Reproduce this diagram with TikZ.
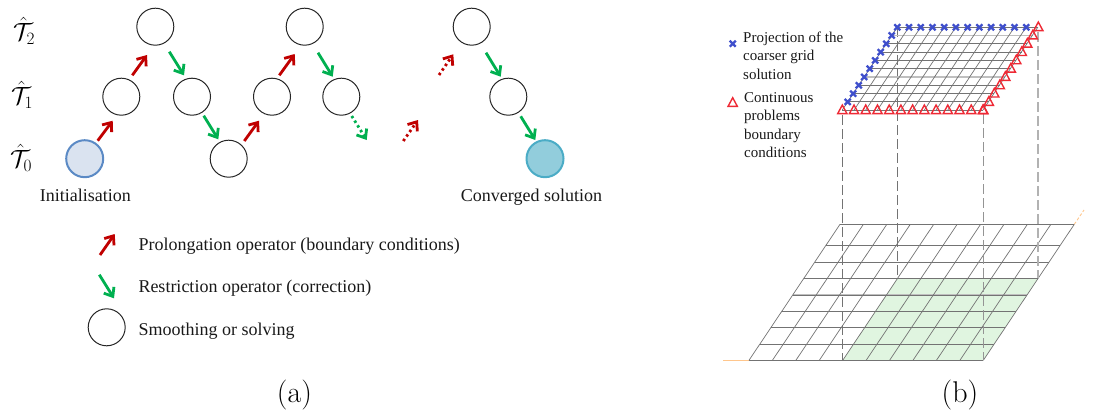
\documentclass[tikz,border=0pt]{standalone}
\usepackage{fontspec}
\usepackage{amsmath}
\newfontfamily\tnr{Liberation Serif}
\usetikzlibrary{arrows.meta}
\definecolor{redA}{HTML}{C00000}
\definecolor{greenA}{HTML}{00B050}
\definecolor{markB}{HTML}{3F4FCC}
\definecolor{markR}{HTML}{EE2A35}
\definecolor{paleG}{HTML}{E0F5E0}
\definecolor{initE}{HTML}{5B8AC5}
\definecolor{initF}{HTML}{DAE3F0}
\definecolor{finE}{HTML}{4BACC6}
\definecolor{finF}{HTML}{92CDDC}
\tikzset{
  smooth node/.style={circle,draw=black!85,line width=1pt,minimum size=37pt,inner sep=0pt},
  init node/.style={smooth node,draw=initE,line width=2pt,fill=initF},
  final node/.style={smooth node,draw=finE,line width=2pt,fill=finF},
  opbase/.style={line width=2.8pt,-{Straight Barb[length=7.5pt,width=12pt,line width=2.8pt]}},
  prol/.style={opbase,draw=redA},
  rest/.style={opbase,draw=greenA},
  dots/.style={dash pattern=on 2.5pt off 3pt},
  txt/.style={font=\tnr\fontsize{18}{20}\selectfont,anchor=base west,inner sep=0pt,text=black!90},
  txtb/.style={font=\tnr\fontsize{15}{17}\selectfont,anchor=base west,inner sep=0pt,text=black!90},
  levl/.style={font=\fontsize{24}{28}\selectfont,inner sep=0pt},
  capt/.style={font=\fontsize{30}{32}\selectfont,inner sep=0pt},
  gridl/.style={draw=black!55,line width=0.7pt},
  gridh/.style={draw=black!25,line width=1.4pt},
  drop/.style={draw=black!55,line width=0.8pt,dash pattern=on 10pt off 4pt},
  dropl/.style={draw=black!30,line width=1.3pt,dash pattern=on 10pt off 4pt},
  tri/.style={draw=markR,line width=1.4pt,line join=miter},
  crs/.style={draw=markB,line width=2.3pt},
}
\newcommand{\mytri}[2]{\draw[tri] (#1-4.6,#2+3.6) -- (#1+4.6,#2+3.6) -- (#1,#2-5) -- cycle;}
\newcommand{\mycrs}[2]{\draw[crs] (#1-3,#2-3) -- (#1+3,#2+3) (#1-3,#2+3) -- (#1+3,#2-3);}
\begin{document}
\begin{tikzpicture}[x=1pt,y=-1pt]
\useasboundingbox (0,0) rectangle (1094,412);
% ---- panel (a)
\node[levl] (l2) at (24,31) {$\hat{\mathcal{T}}_2$};
\node[levl] (l1) at (22,95) {$\hat{\mathcal{T}}_1$};
\node[levl] (l0) at (21,158) {$\hat{\mathcal{T}}_0$};
\node[init node] (c0) at (84.7,158.7) {};
\node[smooth node] (c1) at (121.3,96.7) {};
\node[smooth node] (c2) at (155.3,26.7) {};
\node[smooth node] (c3) at (192,96.7) {};
\node[smooth node] (c4) at (228.7,158.7) {};
\node[smooth node] (c5) at (272,96.7) {};
\node[smooth node] (c6) at (304.7,26.7) {};
\node[smooth node] (c7) at (341.3,96.7) {};
\node[smooth node] (c8) at (471.7,26.7) {};
\node[smooth node] (c9) at (508.3,96.7) {};
\node[final node] (c10) at (545,158.7) {};
\coordinate (a1) at (97.7,140.7); \coordinate (b1) at (112.7,120.7);
\coordinate (a2) at (132.3,75.3); \coordinate (b2) at (147,55);
\coordinate (a3) at (169.3,51.7); \coordinate (b3) at (184,75.3);
\coordinate (a4) at (203.7,115.7); \coordinate (b4) at (218.3,139.3);
\coordinate (a5) at (244.3,141); \coordinate (b5) at (259,120.7);
\coordinate (a6) at (279.3,75.3); \coordinate (b6) at (294.7,54);
\coordinate (a7) at (318,52.7); \coordinate (b7) at (332.7,76.7);
\coordinate (a8) at (351.7,116); \coordinate (b8) at (366.7,140);
\coordinate (a9) at (403.3,141); \coordinate (b9) at (418,120);
\coordinate (a10) at (439,75); \coordinate (b10) at (453.3,54.3);
\coordinate (a11) at (486,52.7); \coordinate (b11) at (500.7,76.7);
\coordinate (a12) at (520.7,116.3); \coordinate (b12) at (535.3,140);
\draw[prol] (a1) -- (b1);
\draw[prol] (a2) -- (b2);
\draw[rest] (a3) -- (b3);
\draw[rest] (a4) -- (b4);
\draw[prol] (a5) -- (b5);
\draw[prol] (a6) -- (b6);
\draw[rest] (a7) -- (b7);
\draw[rest,dots] (a8) -- (b8);
\draw[prol,dots] (a9) -- (b9);
\draw[prol,dots] (a10) -- (b10);
\draw[rest] (a11) -- (b11);
\draw[rest] (a12) -- (b12);
\node[txt] (t1) at (39.7,201.7) {Initialisation};
\node[txt] (t2) at (460.7,201.7) {Converged solution};
\coordinate (la1) at (100,255); \coordinate (lb1) at (114.7,234);
\coordinate (la2) at (99.3,274.7); \coordinate (lb2) at (114,298.3);
\draw[prol] (la1) -- (lb1);
\draw[rest] (la2) -- (lb2);
\node[smooth node] (lc) at (106.7,327.3) {};
\node[txt] (t3) at (138.3,250) {Prolongation operator (boundary conditions)};
\node[txt] (t4) at (138.3,292.7) {Restriction operator (correction)};
\node[txt] (t5) at (138.3,335.7) {Smoothing or solving};
\node[capt] (ca) at (294.5,395) {(a)};
% ---- panel (b): lower grid
\fill[paleG] (842.7,360.3) -- (983.3,360.3) -- (1038,278.3) -- (897.3,278.3) -- cycle;
\draw[orange!45,line width=0.9pt] (723,360.3) -- (749,360.3);
\draw[orange!45,line width=0.9pt,dash pattern=on 3pt off 2pt] (1074.3,224.3) -- (1084,210);
\foreach \y in {295,327.7}{
  \pgfmathsetmacro{\xl}{749+(360.3-\y)*91/136}
  \draw[gridh] (\xl,\y) -- (\xl+234.3,\y);
}
\foreach \y in {224.3,245.3,262.3,278.3,295,311.3,327.7,344.3,360.3}{
  \pgfmathsetmacro{\xl}{749+(360.3-\y)*91/136}
  \draw[gridl] (\xl,\y) -- (\xl+234.3,\y);
}
\foreach \i in {0,...,10}{
  \pgfmathsetmacro{\xb}{749+\i*23.43}
  \draw[gridl] (\xb,360.3) -- (\xb+91,224.3);
}
% dropped lines
\draw[drop] (842.5,115) -- (842.5,360.3);
\draw[drop] (897.3,27) -- (897.3,278.3);
\draw[dropl,draw=black!42] (983.3,114) -- (983.3,360.3);
\draw[dropl] (1038,32) -- (1038,278.3);
% ---- upper grid
\foreach \j in {1,6}{
  \pgfmathsetmacro{\y}{27+\j*8.3}
  \pgfmathsetmacro{\xl}{897.3-\j*5.5}
  \draw[gridh] (\xl,\y) -- (\xl+140.7,\y);
}
\foreach \j in {0,2,3,4,5,7,8,9,10}{
  \pgfmathsetmacro{\y}{27+\j*8.3}
  \pgfmathsetmacro{\xl}{897.3-\j*5.5}
  \draw[gridl] (\xl,\y) -- (\xl+140.7,\y);
}
\foreach \i in {0,...,12}{
  \pgfmathsetmacro{\xb}{842.3+\i*11.72}
  \draw[gridl] (\xb,110) -- (\xb+55,27);
}
% blue crosses
\foreach \i in {0,...,11}{
  \pgfmathsetmacro{\xc}{897.3+\i*11.72}
  \mycrs{\xc}{27.3}
}
\foreach \j in {1,...,9}{
  \pgfmathsetmacro{\xc}{891.7-(\j-1)*5.5}
  \pgfmathsetmacro{\yc}{35.5+(\j-1)*8.3}
  \mycrs{\xc}{\yc}
}
% red triangles
\foreach \i in {0,...,12}{
  \pgfmathsetmacro{\xc}{842.3+\i*11.72}
  \mytri{\xc}{110}
}
\foreach \j in {0,...,10}{
  \pgfmathsetmacro{\xc}{1038.3-\j*5.5}
  \pgfmathsetmacro{\yc}{27+\j*8.3}
  \mytri{\xc}{\yc}
}
% legend of (b)
\mycrs{732.7}{43.7}
\mytri{732.7}{102.7}
\node[txtb] (t6) at (743,42.7) {Projection of the};
\node[txtb] (t7) at (743,60.7) {coarser grid};
\node[txtb] (t8) at (743,79) {solution};
\node[txtb] (t9) at (744,102.7) {Continuous};
\node[txtb] (t10) at (744,120.7) {problems};
\node[txtb] (t11) at (744,139.3) {boundary};
\node[txtb] (t12) at (744,157.3) {conditions};
\node[capt] (cb) at (960,395) {(b)};
\end{tikzpicture}
\end{document}
